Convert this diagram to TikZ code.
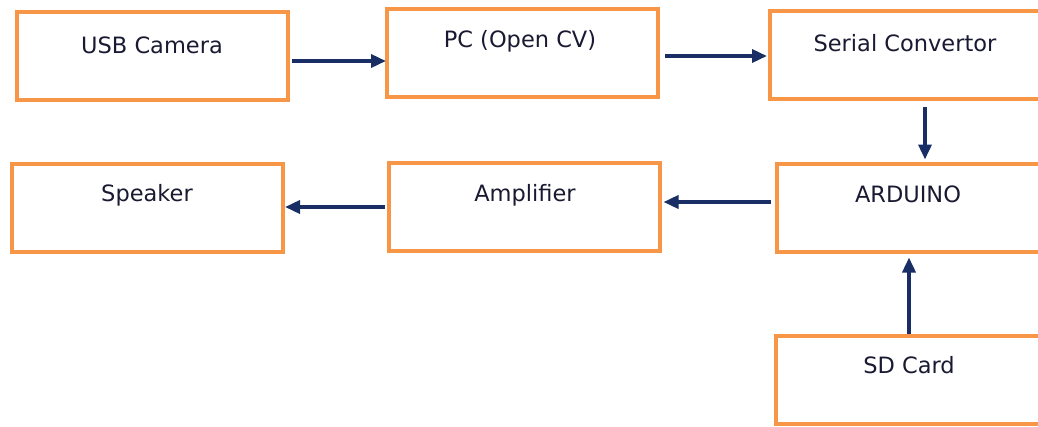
\documentclass[tikz,border=0pt]{standalone}
\usepackage{fontspec}
\setmainfont{DejaVu Sans}
\usetikzlibrary{arrows.meta}
\definecolor{boxorange}{RGB}{247,150,70}
\definecolor{arrownavy}{RGB}{24,46,100}
\definecolor{txt}{RGB}{25,25,50}
\tikzset{
  blk/.style={draw=boxorange, line width=4pt, minimum width=271pt, minimum height=88pt, inner sep=0pt},
  lbl/.style={text=txt, font=\fontsize{22.5}{26}\selectfont, inner sep=0pt},
  arr/.style={draw=arrownavy, line width=3.5pt, -{Triangle[length=15pt,width=13pt]}},
}
\begin{document}
\begin{tikzpicture}[x=1pt,y=-1pt]
\useasboundingbox (0,0) rectangle (1038,426);
\clip (0,0) rectangle (1038,426);
\node[blk] (usb) at (152.5,56) {};
\node[blk] (pc) at (522.5,53) {};
\node[blk] (ser) at (905.5,55) {};
\node[blk] (spk) at (147.5,207.5) {};
\node[blk] (amp) at (524,206.5) {};
\node[blk] (ard) at (912.5,207.5) {};
\node[blk] (sd) at (911.5,379.5) {};
\node[lbl] (usbt) at (152,45) {USB Camera};
\node[lbl] (pct) at (520,41) {PC (Open CV)};
\node[lbl] (sert) at (905,43) {Serial Convertor};
\node[lbl] (spkt) at (147,195) {Speaker};
\node[lbl] (ampt) at (525,195) {Amplifier};
\node[lbl] (ardt) at (908,194) {ARDUINO};
\node[lbl] (sdt) at (909,365) {SD Card};
\coordinate (y1) at (0,61);
\coordinate (y2) at (0,56);
\coordinate (y3) at (0,202);
\coordinate (y4) at (0,207);
\coordinate (x1) at (925,0);
\coordinate (x2) at (909,0);
\draw[arr, shorten <=2pt, shorten >=-1pt] (usb.east |- y1) -- (pc.west |- y1);
\draw[arr, shorten <=5pt, shorten >=1pt] (pc.east |- y2) -- (ser.west |- y2);
\draw[arr, shorten <=6pt, shorten >=2pt] (x1 |- ser.south) -- (x1 |- ard.north);
\draw[arr, shorten <=4pt, shorten >=2pt] (ard.west |- y3) -- (amp.east |- y3);
\draw[arr, shorten <=2pt, shorten >=0pt] (amp.west |- y4) -- (spk.east |- y4);
\draw[arr, shorten <=0pt, shorten >=4pt] (x2 |- sd.north) -- (x2 |- ard.south);
\end{tikzpicture}
\end{document}
